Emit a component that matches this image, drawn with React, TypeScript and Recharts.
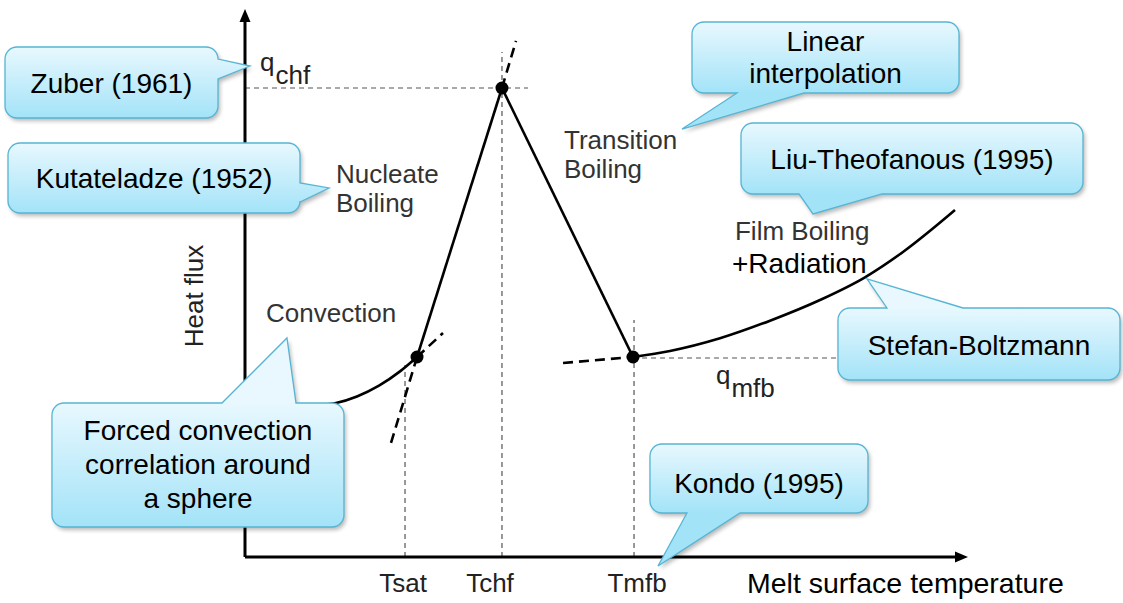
import React from 'react';
import { ComposedChart, Line, Scatter, XAxis, YAxis, ReferenceDot } from 'recharts';

const FONT = '"Liberation Sans", Arial, Helvetica, sans-serif';

// ---------- data (x: melt surface temperature, y: heat flux; arbitrary 0..100 units) ----------
const convectionCurve = [
  { x: 9.09, y: 27.86 },
  { x: 12.73, y: 28.36 },
  { x: 15.66, y: 29.56 },
  { x: 18.74, y: 31.55 },
  { x: 21.68, y: 34.18 },
  { x: 24.06, y: 36.83 },
];
const convectionExtension = [
  { x: 24.06, y: 36.83 },
  { x: 27.69, y: 41.25 },
];
const nucleateLine = [
  { x: 24.06, y: 36.83 },
  { x: 35.94, y: 86.37 },
];
const nucleateLowerExtension = [
  { x: 20.42, y: 21.0 },
  { x: 24.06, y: 36.83 },
];
const nucleateUpperExtension = [
  { x: 35.94, y: 86.37 },
  { x: 37.9, y: 95.03 },
];
const transitionLine = [
  { x: 35.94, y: 86.37 },
  { x: 54.27, y: 36.83 },
];
const filmExtension = [
  { x: 44.48, y: 35.73 },
  { x: 54.27, y: 36.83 },
];
const filmCurve = [
  { x: 54.27, y: 36.83 },
  { x: 59.44, y: 37.94 },
  { x: 66.43, y: 40.28 },
  { x: 73.43, y: 43.52 },
  { x: 80.42, y: 47.33 },
  { x: 86.71, y: 51.51 },
  { x: 92.07, y: 56.22 },
  { x: 99.3, y: 63.9 },
];
const keyPoints = [
  { x: 24.06, y: 36.83 },
  { x: 35.94, y: 86.37 },
  { x: 54.27, y: 36.83 },
];
const qchfGuide = [
  { x: 0, y: 86.37 },
  { x: 39.58, y: 86.37 },
];
const qmfbGuide = [
  { x: 54.27, y: 36.65 },
  { x: 83.22, y: 36.65 },
];
const tsatGuide = [
  { x: 22.38, y: 0 },
  { x: 22.38, y: 35.36 },
];
const tchfGuide = [
  { x: 35.94, y: 0 },
  { x: 35.94, y: 93.0 },
];
const tmfbGuide = [
  { x: 54.41, y: 0 },
  { x: 54.41, y: 43.65 },
];

const tickValues = [22.38, 35.94, 54.41];
const tickLabels = ['Tsat', 'Tchf', 'Tmfb'];
const tickShift = [-2, -12, 3];

const regionLabels = [
  { text: 'Nucleate', x: 12.73, y: 68.88, size: 26, color: '#333' },
  { text: 'Boiling', x: 12.73, y: 63.54, size: 26, color: '#333' },
  { text: 'Transition', x: 44.62, y: 75.14, size: 26, color: '#333' },
  { text: 'Boiling', x: 44.62, y: 69.8, size: 26, color: '#333' },
  { text: 'Convection', x: 2.94, y: 43.28, size: 26, color: '#333' },
  { text: 'Film Boiling', x: 68.53, y: 58.38, size: 26, color: '#333' },
  { text: '+Radiation', x: 68.11, y: 52.3, size: 28, color: '#000' },
  { text: 'Melt surface temperature', x: 70.21, y: -6.63, size: 28.5, color: '#000' },
];

const subLabels = [
  { main: 'q', sub: 'chf', x: 2.1, y: 89.5 },
  { main: 'q', sub: 'mfb', x: 65.87, y: 31.86 },
];

const yTitle = { text: 'Heat flux', x: -7.13, y: 48.07 };

type Edge = 'top' | 'right' | 'bottom' | 'left';
type CalloutDef = {
  id: string;
  lines: string[];
  tipX: number;
  tipY: number;
};
const callouts: CalloutDef[] = [
  { id: 'zuber', lines: ['Zuber (1961)'], tipX: 0.7, tipY: 90.42 },
  { id: 'kutat', lines: ['Kutateladze (1952)'], tipX: 11.75, tipY: 67.96 },
  { id: 'linear', lines: ['Linear', 'interpolation'], tipX: 61.12, tipY: 78.82 },
  { id: 'liu', lines: ['Liu-Theofanous (1995)'], tipX: 79.44, tipY: 63.17 },
  { id: 'stefan', lines: ['Stefan-Boltzmann'], tipX: 86.99, tipY: 51.2 },
  { id: 'forced', lines: ['Forced convection', 'correlation around', 'a sphere'], tipX: 5.87, tipY: 40.33 },
  { id: 'kondo', lines: ['Kondo (1995)'], tipX: 57.76, tipY: -1.66 },
];

// layout of each bubble relative to its tip (pixels)
const calloutLayout: Record<string, { dx: number; dy: number; w: number; h: number; edge: Edge; b1: number; b2: number; base: number[] }> = {
  zuber: { dx: -245, dy: -19, w: 213, h: 71, edge: 'right', b1: -7, b2: 13, base: [46] },
  kutat: { dx: -321, dy: -45, w: 292, h: 70, edge: 'right', b1: -5, b2: 14, base: [45] },
  linear: { dx: 10, dy: -107, w: 267, h: 71, edge: 'bottom', b1: 55, b2: 122, base: [29, 61] },
  liu: { dx: -72, dy: -91, w: 342, h: 71, edge: 'bottom', b1: -14, b2: 69, base: [46] },
  stefan: { dx: -29, dy: 29, w: 282, h: 72, edge: 'top', b1: 20, b2: 96, base: [47] },
  forced: { dx: -235, dy: 65, w: 292, h: 124, edge: 'top', b1: -65, b2: 9, base: [37, 71, 105] },
  kondo: { dx: -8, dy: -122, w: 218, h: 69, edge: 'bottom', b1: 29, b2: 82, base: [49] },
};

function calloutPath(x: number, y: number, w: number, h: number, r: number, edge: Edge, b1: number, b2: number, tx: number, ty: number) {
  const p: string[] = [];
  p.push(`M${x + r},${y}`);
  if (edge === 'top') p.push(`L${b1},${y} L${tx},${ty} L${b2},${y}`);
  p.push(`L${x + w - r},${y} A${r},${r} 0 0 1 ${x + w},${y + r}`);
  if (edge === 'right') p.push(`L${x + w},${b1} L${tx},${ty} L${x + w},${b2}`);
  p.push(`L${x + w},${y + h - r} A${r},${r} 0 0 1 ${x + w - r},${y + h}`);
  if (edge === 'bottom') p.push(`L${b2},${y + h} L${tx},${ty} L${b1},${y + h}`);
  p.push(`L${x + r},${y + h} A${r},${r} 0 0 1 ${x},${y + h - r}`);
  if (edge === 'left') p.push(`L${x},${b2} L${tx},${ty} L${x},${b1}`);
  p.push(`L${x},${y + r} A${r},${r} 0 0 1 ${x + r},${y} Z`);
  return p.join(' ');
}

const makeCallout = (c: CalloutDef) => (props: any) => {
  const { cx, cy } = props;
  if (cx == null || cy == null) return <g />;
  const L = calloutLayout[c.id];
  const bx = cx + L.dx;
  const by = cy + L.dy;
  const horiz = L.edge === 'top' || L.edge === 'bottom';
  const b1 = horiz ? cx + L.b1 : cy + L.b1;
  const b2 = horiz ? cx + L.b2 : cy + L.b2;
  const d = calloutPath(bx, by, L.w, L.h, 12, L.edge, b1, b2, cx, cy);
  const gid = `grad-${c.id}`;
  const fid = `shadow-${c.id}`;
  return (
    <g>
      <defs>
        <linearGradient id={gid} gradientUnits="userSpaceOnUse" x1={0} y1={by} x2={0} y2={by + L.h}>
          <stop offset="0%" stopColor="#e8f8fe" />
          <stop offset="100%" stopColor="#a3e3f8" />
        </linearGradient>
        <filter id={fid} x="-10%" y="-10%" width="130%" height="140%">
          <feGaussianBlur stdDeviation="2" />
        </filter>
      </defs>
      <path d={d} fill="#000" opacity={0.28} transform="translate(2,3)" filter={`url(#${fid})`} />
      <path d={d} fill={`url(#${gid})`} stroke="#56b5d4" strokeWidth={1.3} />
      {c.lines.map((t, i) => (
        <text key={i} x={bx + L.w / 2} y={by + L.base[i]} textAnchor="middle" fontFamily={FONT} fontSize={28} fill="#000">
          {t}
        </text>
      ))}
    </g>
  );
};

const textShape = (l: { text: string; size: number; color: string }) => (props: any) => (
  <text x={props.cx} y={props.cy} fontFamily={FONT} fontSize={l.size} fill={l.color}>
    {l.text}
  </text>
);

const subShape = (l: { main: string; sub: string }) => (props: any) => (
  <text x={props.cx} y={props.cy} fontFamily={FONT} fontSize={26} fill="#222">
    {l.main}
    <tspan dy={13} dx={1}>{l.sub}</tspan>
  </text>
);

const yTitleShape = (props: any) => (
  <text
    x={props.cx}
    y={props.cy}
    transform={`rotate(-90 ${props.cx} ${props.cy})`}
    textAnchor="middle"
    dominantBaseline="central"
    fontFamily={FONT}
    fontSize={26}
    fill="#222"
  >
    {yTitle.text}
  </text>
);

const XTick = (props: any) => {
  const { x, y, payload } = props;
  const i = tickValues.indexOf(payload.value);
  if (i < 0) return null;
  return (
    <text x={x + tickShift[i]} y={y + 35} textAnchor="middle" fontFamily={FONT} fontSize={26} fill="#222">
      {tickLabels[i]}
    </text>
  );
};

const dotShape = (props: any) => <circle cx={props.cx} cy={props.cy} r={6.5} fill="#000" />;
const xArrow = (props: any) => (
  <polygon points={`${props.cx - 5},${props.cy - 5.5} ${props.cx + 8},${props.cy} ${props.cx - 5},${props.cy + 5.5}`} fill="#000" />
);
const yArrow = (props: any) => (
  <polygon points={`${props.cx - 5.5},${props.cy + 8} ${props.cx},${props.cy - 5} ${props.cx + 5.5},${props.cy + 8}`} fill="#000" />
);

const solid = { stroke: '#000', strokeWidth: 2.6, dot: false, isAnimationActive: false, activeDot: false } as const;
const thickDash = { ...solid, strokeDasharray: '10 6' };
const guide = { stroke: '#555', strokeWidth: 1.2, strokeDasharray: '5 4', dot: false, isAnimationActive: false, activeDot: false } as const;

export default function App() {
  return (
    <div style={{ position: 'absolute', left: 0, top: 0, width: 1123, height: 603, background: '#fff' }}>
      <ComposedChart width={1123} height={603} margin={{ top: 14, right: 163, bottom: 0, left: 235 }}>
        <XAxis
          type="number"
          dataKey="x"
          domain={[0, 100]}
          allowDataOverflow
          ticks={tickValues}
          tick={<XTick />}
          tickLine={false}
          tickSize={0}
          tickMargin={0}
          height={46}
          axisLine={{ stroke: '#000', strokeWidth: 3 }}
        />
        <YAxis
          type="number"
          dataKey="y"
          domain={[0, 100]}
          allowDataOverflow
          tick={false}
          tickLine={false}
          width={10}
          axisLine={{ stroke: '#000', strokeWidth: 3 }}
        />
        <Line data={qchfGuide} dataKey="y" type="linear" {...guide} />
        <Line data={qmfbGuide} dataKey="y" type="linear" {...guide} />
        <Line data={tsatGuide} dataKey="y" type="linear" {...guide} />
        <Line data={tchfGuide} dataKey="y" type="linear" {...guide} />
        <Line data={tmfbGuide} dataKey="y" type="linear" {...guide} />
        <Line data={convectionCurve} dataKey="y" type="monotone" {...solid} />
        <Line data={convectionExtension} dataKey="y" type="linear" {...thickDash} />
        <Line data={nucleateLine} dataKey="y" type="linear" {...solid} />
        <Line data={nucleateLowerExtension} dataKey="y" type="linear" {...thickDash} />
        <Line data={nucleateUpperExtension} dataKey="y" type="linear" {...thickDash} />
        <Line data={transitionLine} dataKey="y" type="linear" {...solid} />
        <Line data={filmExtension} dataKey="y" type="linear" {...thickDash} />
        <Line data={filmCurve} dataKey="y" type="monotone" {...solid} />
        <Scatter data={keyPoints} dataKey="y" shape={dotShape} isAnimationActive={false} />
        {regionLabels.map((l, i) => (
          <ReferenceDot key={`lab-${i}`} x={l.x} y={l.y} r={1} ifOverflow="visible" shape={textShape(l)} />
        ))}
        {subLabels.map((l, i) => (
          <ReferenceDot key={`sub-${i}`} x={l.x} y={l.y} r={1} ifOverflow="visible" shape={subShape(l)} />
        ))}
        <ReferenceDot x={yTitle.x} y={yTitle.y} r={1} ifOverflow="visible" shape={yTitleShape} />
        <ReferenceDot x={100} y={0} r={1} ifOverflow="visible" shape={xArrow} />
        <ReferenceDot x={0} y={100} r={1} ifOverflow="visible" shape={yArrow} />
        {callouts.map((c) => (
          <ReferenceDot key={c.id} x={c.tipX} y={c.tipY} r={1} ifOverflow="visible" shape={makeCallout(c)} />
        ))}
      </ComposedChart>
    </div>
  );
}
